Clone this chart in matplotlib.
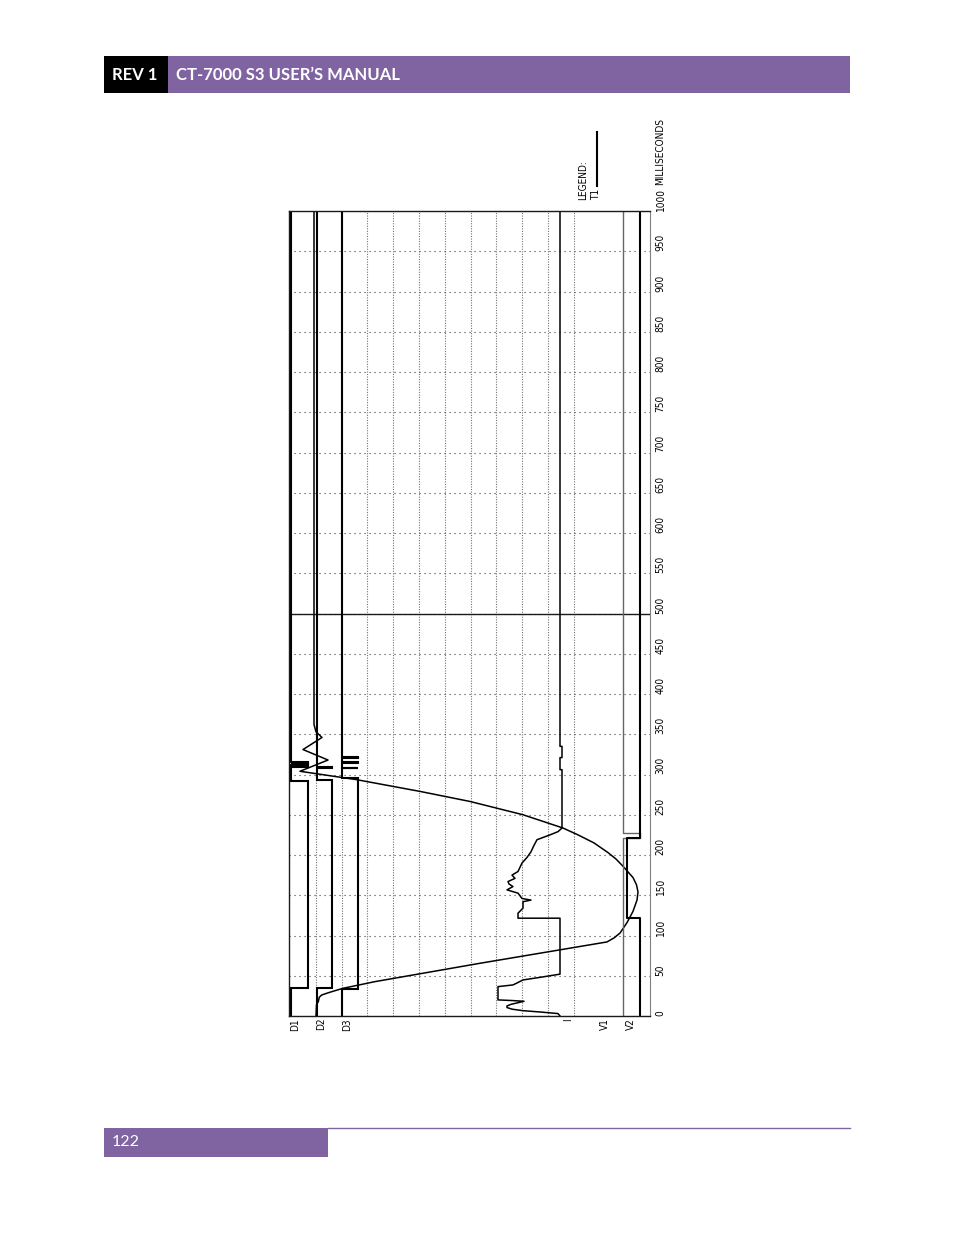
import matplotlib
matplotlib.use('Agg')
import matplotlib.pyplot as plt
from matplotlib.patches import Rectangle

# ---------------- data ----------------
time_ticks = list(range(0, 1001, 50))
tick_labels = [str(t) for t in time_ticks]
channel_names = ['D1', 'D2', 'D3', 'I', 'V1', 'V2']

# contact channels: transition times (ms) and state (0 open / 1 closed) per interval
d1_times = [0, 34.5, 291.5, 309, 310.2, 311.3, 312.5, 313.6, 315, 316, 1000]
d1_states = [0, 1, 0, 1, 0, 1, 0, 1, 0, 0]
d2_times = [0, 34.5, 293.5, 307.8, 309.2, 1000]
d2_states = [0, 1, 0, 1, 0]
d3_times = [0, 33, 296, 307.6, 308.4, 314.6, 315.4, 320.6, 321.4, 1000]
d3_states = [0, 1, 0, 1, 0, 1, 0, 1, 0]

# travel (motion) trace: time (ms) and position (chart units)
travel_t = [0, 14, 17.8, 23.3, 26.1, 28.2, 30.2, 34.4, 42.7, 65.5, 92, 97, 103,
            116, 130, 144, 154, 163, 172, 186, 195, 203, 215, 225, 233.5, 250, 266.5,
            279, 293.5, 304, 318, 331, 346, 353, 362, 1000]
travel_x = [316, 316.5, 318.3, 319.3, 321.7, 326.7, 331.7, 343, 375, 480, 607, 614, 620,
            627, 633, 637, 638, 636.5, 633, 623, 616, 608, 594, 578, 563, 523, 470,
            420, 357, 300, 328, 303, 322, 316, 314, 314]

# current trace I
i_t = [0, 3, 5, 6.6, 8.5, 10.5, 12.5, 14.5, 16.5, 18.3, 19.2, 20, 36.5, 38.6, 41, 44.8, 48, 52,
       121.5, 121.5, 127.7, 134, 142, 144, 146, 152.6, 156.7, 160.8, 164, 167, 171, 175, 179.5,
       190, 197, 204, 212, 219, 225, 229, 233.5, 306, 306, 321, 321, 335, 335, 1000]
i_x = [560, 558, 540, 523, 512, 507, 507, 511, 518, 524, 512, 498, 498, 513, 517, 523, 540, 560,
       560, 518, 518, 523, 523, 531, 522, 518, 507, 513, 509, 508, 515, 512, 518,
       522, 527, 531, 534, 537, 550, 558, 562, 562, 560, 560, 562, 562, 560, 560]

# voltage channels
v1_times = [0, 221, 227, 1000]
v1_x = [623.5, 640, 623.5]
v2_times = [0, 122, 221, 1000]
v2_x = [640, 627, 640]

# channel baselines / closed amplitudes (chart units)
d_base = {'D1': 291, 'D2': 316.7, 'D3': 342.3}
d_amp = {'D1': 17, 'D2': 15, 'D3': 16}
grid_x = [290 + 25.8 * k for k in range(1, 12)]

# ---------------- figure ----------------
W, H = 954, 1235
fig = plt.figure(figsize=(W / 100, H / 100), dpi=100)
fig.patch.set_facecolor('white')

bg = fig.add_axes([0, 0, 1, 1])
bg.set_xlim(0, W)
bg.set_ylim(H, 0)
bg.axis('off')

PURPLE = '#8064A2'
HFONT = ['Lato', 'DejaVu Sans']
CFONT = ['Liberation Sans Narrow', 'DejaVu Sans']
CF = dict(family=CFONT, fontstretch='condensed', fontsize=7.2)

# header
bg.add_patch(Rectangle((104, 56), 64, 37, color='black', lw=0))
bg.add_patch(Rectangle((168, 56), 682, 37, color=PURPLE, lw=0))
bg.text(112, 75, 'REV 1', color='white', fontsize=12, fontweight='bold',
        family=HFONT, va='center', ha='left')
bg.text(176, 75, 'CT-7000 S3 USER\u2019S MANUAL', color='white', fontsize=12,
        fontweight='bold', family=HFONT, va='center', ha='left')

# footer
bg.add_patch(Rectangle((104, 1128), 224, 29, color=PURPLE, lw=0))
bg.plot([328, 850], [1128, 1128], color=PURPLE, lw=1.0)
bg.text(112, 1142, '122', color='white', fontsize=11.5, family=HFONT, va='center', ha='left')

# chart axes
x0, x1, ytop, ybot = 289, 650, 211, 1016
ax = fig.add_axes([x0 / W, (H - ybot) / H, (x1 - x0) / W, (ybot - ytop) / H])
ax.set_xlim(x0, x1)
ax.set_ylim(0, 1000)
ax.patch.set_alpha(0)

ax.yaxis.tick_right()
ax.set_yticks(time_ticks, tick_labels, rotation=90, rotation_mode='anchor',
              ha='left', va='top', **CF)
ax.tick_params(axis='y', length=0, pad=4)
ax.set_xticks(grid_x)
ax.tick_params(axis='x', length=0, labelbottom=False)
ax.grid(axis='y', color='0.25', lw=0.8, linestyle=(0, (1, 3.5)))
ax.grid(axis='x', color='0.45', lw=0.8, linestyle=(0, (1, 1.3)))
ax.axhline(500, color='0.1', lw=1.0)
for s in ['left', 'top', 'bottom']:
    ax.spines[s].set_color('0.1')
    ax.spines[s].set_linewidth(1.0)
ax.spines['right'].set_color('0.5')
ax.spines['right'].set_linewidth(0.8)


def step_xy(times, levels):
    xs, ys = [], []
    for i, lv in enumerate(levels):
        xs += [lv, lv]
        ys += [times[i], times[i + 1]]
    return xs, ys


for name, tt, st in [('D1', d1_times, d1_states), ('D2', d2_times, d2_states),
                     ('D3', d3_times, d3_states)]:
    lv = [d_base[name] + d_amp[name] * s for s in st]
    xs, ys = step_xy(tt, lv)
    ax.plot(xs, ys, color='black', lw=1.5, solid_joinstyle='miter')

ax.plot(travel_x, travel_t, color='black', lw=1.1)
ax.plot(i_x, i_t, color='black', lw=1.1)

xs, ys = step_xy(v1_times, v1_x)
ax.plot(xs, ys, color='0.4', lw=1.0)
xs, ys = step_xy(v2_times, v2_x)
ax.plot(xs, ys, color='black', lw=1.5)

# channel labels
label_x = [290, 316, 342, 563, 600, 626]
for nm, lx in zip(channel_names, label_x):
    bg.text(lx, 1018, nm, rotation=90, rotation_mode='anchor', ha='right', va='top',
            color='black', **CF)

# legend and units
bg.text(578, 200, 'LEGEND:', rotation=90, rotation_mode='anchor', ha='left', va='top', **CF)
bg.text(591, 200, 'T1', rotation=90, rotation_mode='anchor', ha='left', va='top', **CF)
bg.plot([597, 597], [132, 186], color='black', lw=1.5)
bg.text(655, 185, 'MILLISECONDS', rotation=90, rotation_mode='anchor', ha='left', va='top', **CF)

fig.savefig('out.png', dpi=100)
